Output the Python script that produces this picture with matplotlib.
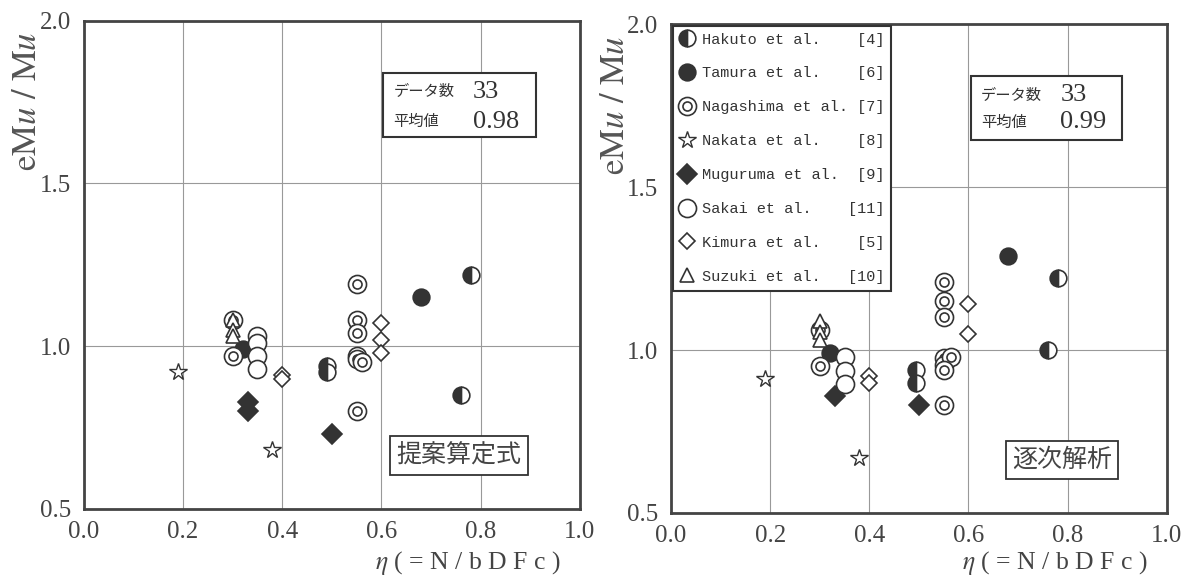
import matplotlib.pyplot as plt
from matplotlib.lines import Line2D
from matplotlib.path import Path
from matplotlib.patches import Rectangle

plt.rcParams['font.family'] = ['Liberation Serif', 'Noto Sans CJK JP', 'DejaVu Sans']
plt.rcParams['mathtext.fontset'] = 'stix'

# series names and reference numbers
names = ['Hakuto et al.', 'Tamura et al.', 'Nagashima et al.', 'Nakata et al.',
         'Muguruma et al.', 'Sakai et al.', 'Kimura et al.', 'Suzuki et al.']
refs = ['[4]', '[6]', '[7]', '[8]', '[9]', '[11]', '[5]', '[10]']

# left panel : 提案算定式
a_hakuto_x = [0.49, 0.49, 0.78, 0.76]
a_hakuto_y = [0.94, 0.92, 1.22, 0.85]
a_tamura_x = [0.32, 0.68]
a_tamura_y = [0.99, 1.15]
a_nagashima_x = [0.30, 0.30, 0.55, 0.55, 0.55, 0.55, 0.55, 0.56, 0.55]
a_nagashima_y = [1.08, 0.97, 1.19, 1.08, 1.04, 0.97, 0.96, 0.95, 0.80]
a_nakata_x = [0.19, 0.38]
a_nakata_y = [0.92, 0.68]
a_muguruma_x = [0.33, 0.33, 0.50]
a_muguruma_y = [0.83, 0.80, 0.73]
a_sakai_x = [0.35, 0.35, 0.35, 0.35]
a_sakai_y = [1.03, 1.01, 0.97, 0.93]
a_kimura_x = [0.40, 0.40, 0.60, 0.60, 0.60]
a_kimura_y = [0.91, 0.90, 1.07, 1.02, 0.98]
a_suzuki_x = [0.30, 0.30, 0.30]
a_suzuki_y = [1.08, 1.05, 1.03]

# right panel : 逐次解析
b_hakuto_x = [0.495, 0.495, 0.78, 0.76]
b_hakuto_y = [0.94, 0.90, 1.22, 1.00]
b_tamura_x = [0.32, 0.68]
b_tamura_y = [0.99, 1.29]
b_nagashima_x = [0.30, 0.30, 0.55, 0.55, 0.55, 0.55, 0.55, 0.565, 0.55, 0.55]
b_nagashima_y = [1.06, 0.95, 1.21, 1.15, 1.10, 0.975, 0.955, 0.98, 0.94, 0.83]
b_nakata_x = [0.19, 0.38]
b_nakata_y = [0.91, 0.67]
b_muguruma_x = [0.33, 0.50]
b_muguruma_y = [0.86, 0.83]
b_sakai_x = [0.35, 0.35, 0.35]
b_sakai_y = [0.98, 0.935, 0.895]
b_kimura_x = [0.40, 0.40, 0.60, 0.60]
b_kimura_y = [0.92, 0.90, 1.14, 1.05]
b_suzuki_x = [0.30, 0.30, 0.30]
b_suzuki_y = [1.09, 1.055, 1.03]

count_a, mean_a = '33', '0.98'
count_b, mean_b = '33', '0.99'

ink = '#333333'

# double circle marker
circ = Path.unit_circle()
ring = Path.make_compound_path(circ, Path(circ.vertices * 0.5, circ.codes))

styles = [
    dict(marker='o', ms=12, fillstyle='left', mfc=ink, mfcalt='white', mew=1.2),
    dict(marker='o', ms=12, mfc=ink, mew=1.2),
    dict(marker=ring, ms=13, mfc='white', mew=1.2),
    dict(marker='*', ms=13, mfc='white', mew=1.0),
    dict(marker='D', ms=10, mfc=ink, mew=1.2),
    dict(marker='o', ms=13, mfc='white', mew=1.2),
    dict(marker='D', ms=8.5, mfc='white', mew=1.2),
    dict(marker='^', ms=10, mfc='white', mew=1.2),
]

panel_a = [(a_hakuto_x, a_hakuto_y), (a_tamura_x, a_tamura_y), (a_nagashima_x, a_nagashima_y),
           (a_nakata_x, a_nakata_y), (a_muguruma_x, a_muguruma_y), (a_sakai_x, a_sakai_y),
           (a_kimura_x, a_kimura_y), (a_suzuki_x, a_suzuki_y)]
panel_b = [(b_hakuto_x, b_hakuto_y), (b_tamura_x, b_tamura_y), (b_nagashima_x, b_nagashima_y),
           (b_nakata_x, b_nakata_y), (b_muguruma_x, b_muguruma_y), (b_sakai_x, b_sakai_y),
           (b_kimura_x, b_kimura_y), (b_suzuki_x, b_suzuki_y)]

fig = plt.figure(figsize=(11.86, 5.77), dpi=100)
ax1 = fig.add_axes([0.0708, 0.118, 0.418, 0.846])
ax2 = fig.add_axes([0.5658, 0.111, 0.418, 0.847])


def setup(ax, xlab_y):
    ax.set_xlim(0, 1.0)
    ax.set_ylim(0.5, 2.0)
    ax.set_xticks([0.0, 0.2, 0.4, 0.6, 0.8, 1.0])
    ax.set_yticks([0.5, 1.0, 1.5, 2.0])
    ax.set_xticklabels(['0.0', '0.2', '0.4', '0.6', '0.8', '1.0'])
    ax.set_yticklabels(['0.5', '1.0', '1.5', '2.0'])
    ax.tick_params(length=0, labelsize=18, labelcolor='#444444', pad=9)
    ax.grid(True, color='#999999', lw=0.8)
    ax.set_axisbelow(True)
    for s in ax.spines.values():
        s.set_linewidth(2)
        s.set_color('#444444')
    ax.text(-0.113, 0.835, r'$\mathrm{eM}u\ /\ \mathrm{M}u$', transform=ax.transAxes,
            rotation=90, ha='center', va='center', fontsize=25, color='#555555')
    ax.text(0.775, xlab_y, r'$\eta$ ( = N / b D F c )', transform=ax.transAxes,
            ha='center', va='center', fontsize=18.5, color='#444444')


def draw(ax, data):
    for (x, y), st in zip(data, styles):
        ax.plot(x, y, linestyle='none', mec=ink, **st)


def stats(ax, box, row1, row2, n, m):
    x0, y0, x1, y1 = box
    ax.add_patch(Rectangle((x0, y0), x1 - x0, y1 - y0, transform=ax.transAxes,
                           fill=True, fc='white', ec='#333333', lw=1.5, zorder=5))
    ax.text(x0 + 0.02, row1, 'データ数', transform=ax.transAxes, ha='left', va='center',
            fontsize=11, family='Noto Sans CJK JP', color=ink, zorder=6)
    ax.text(x0 + 0.02, row2, '平均値', transform=ax.transAxes, ha='left', va='center',
            fontsize=11, family='Noto Sans CJK JP', color=ink, zorder=6)
    ax.text(x0 + 0.18, row1, n, transform=ax.transAxes, ha='left', va='center',
            fontsize=19, color=ink, zorder=6)
    ax.text(x0 + 0.18, row2, m, transform=ax.transAxes, ha='left', va='center',
            fontsize=19, color=ink, zorder=6)


setup(ax1, -0.11)
setup(ax2, -0.102)

draw(ax1, panel_a)
draw(ax2, panel_b)

stats(ax1, (0.604, 0.762, 0.911, 0.893), 0.855, 0.793, count_a, mean_a)
stats(ax2, (0.605, 0.763, 0.909, 0.894), 0.855, 0.800, count_b, mean_b)

box_kw = dict(boxstyle='square,pad=0.25', fc='white', ec='#333333', lw=1.3)
ax1.text(0.756, 0.109, '提案算定式', transform=ax1.transAxes, ha='center', va='center',
         fontsize=18, family='Noto Sans CJK JP', color='#444444', bbox=box_kw)
ax2.text(0.789, 0.108, '逐次解析', transform=ax2.transAxes, ha='center', va='center',
         fontsize=18, family='Noto Sans CJK JP', color='#444444', bbox=box_kw)

# legend
handles = []
for st in styles:
    kw = dict(st)
    handles.append(Line2D([], [], linestyle='none', mec=ink, **kw))
labels = [f'{n:<16}{r:>4}' for n, r in zip(names, refs)]
leg = ax2.legend(handles, labels, loc='upper left', bbox_to_anchor=(0.0, 1.0),
                 borderaxespad=0.1, prop={'family': 'Liberation Mono', 'size': 11},
                 labelspacing=1.3, handlelength=1.0, handletextpad=0.45,
                 borderpad=0.45, fancybox=False, framealpha=1, edgecolor='#333333')
leg.get_frame().set_linewidth(1.5)
for t in leg.get_texts():
    t.set_color(ink)

fig.savefig('out.png', dpi=100)
